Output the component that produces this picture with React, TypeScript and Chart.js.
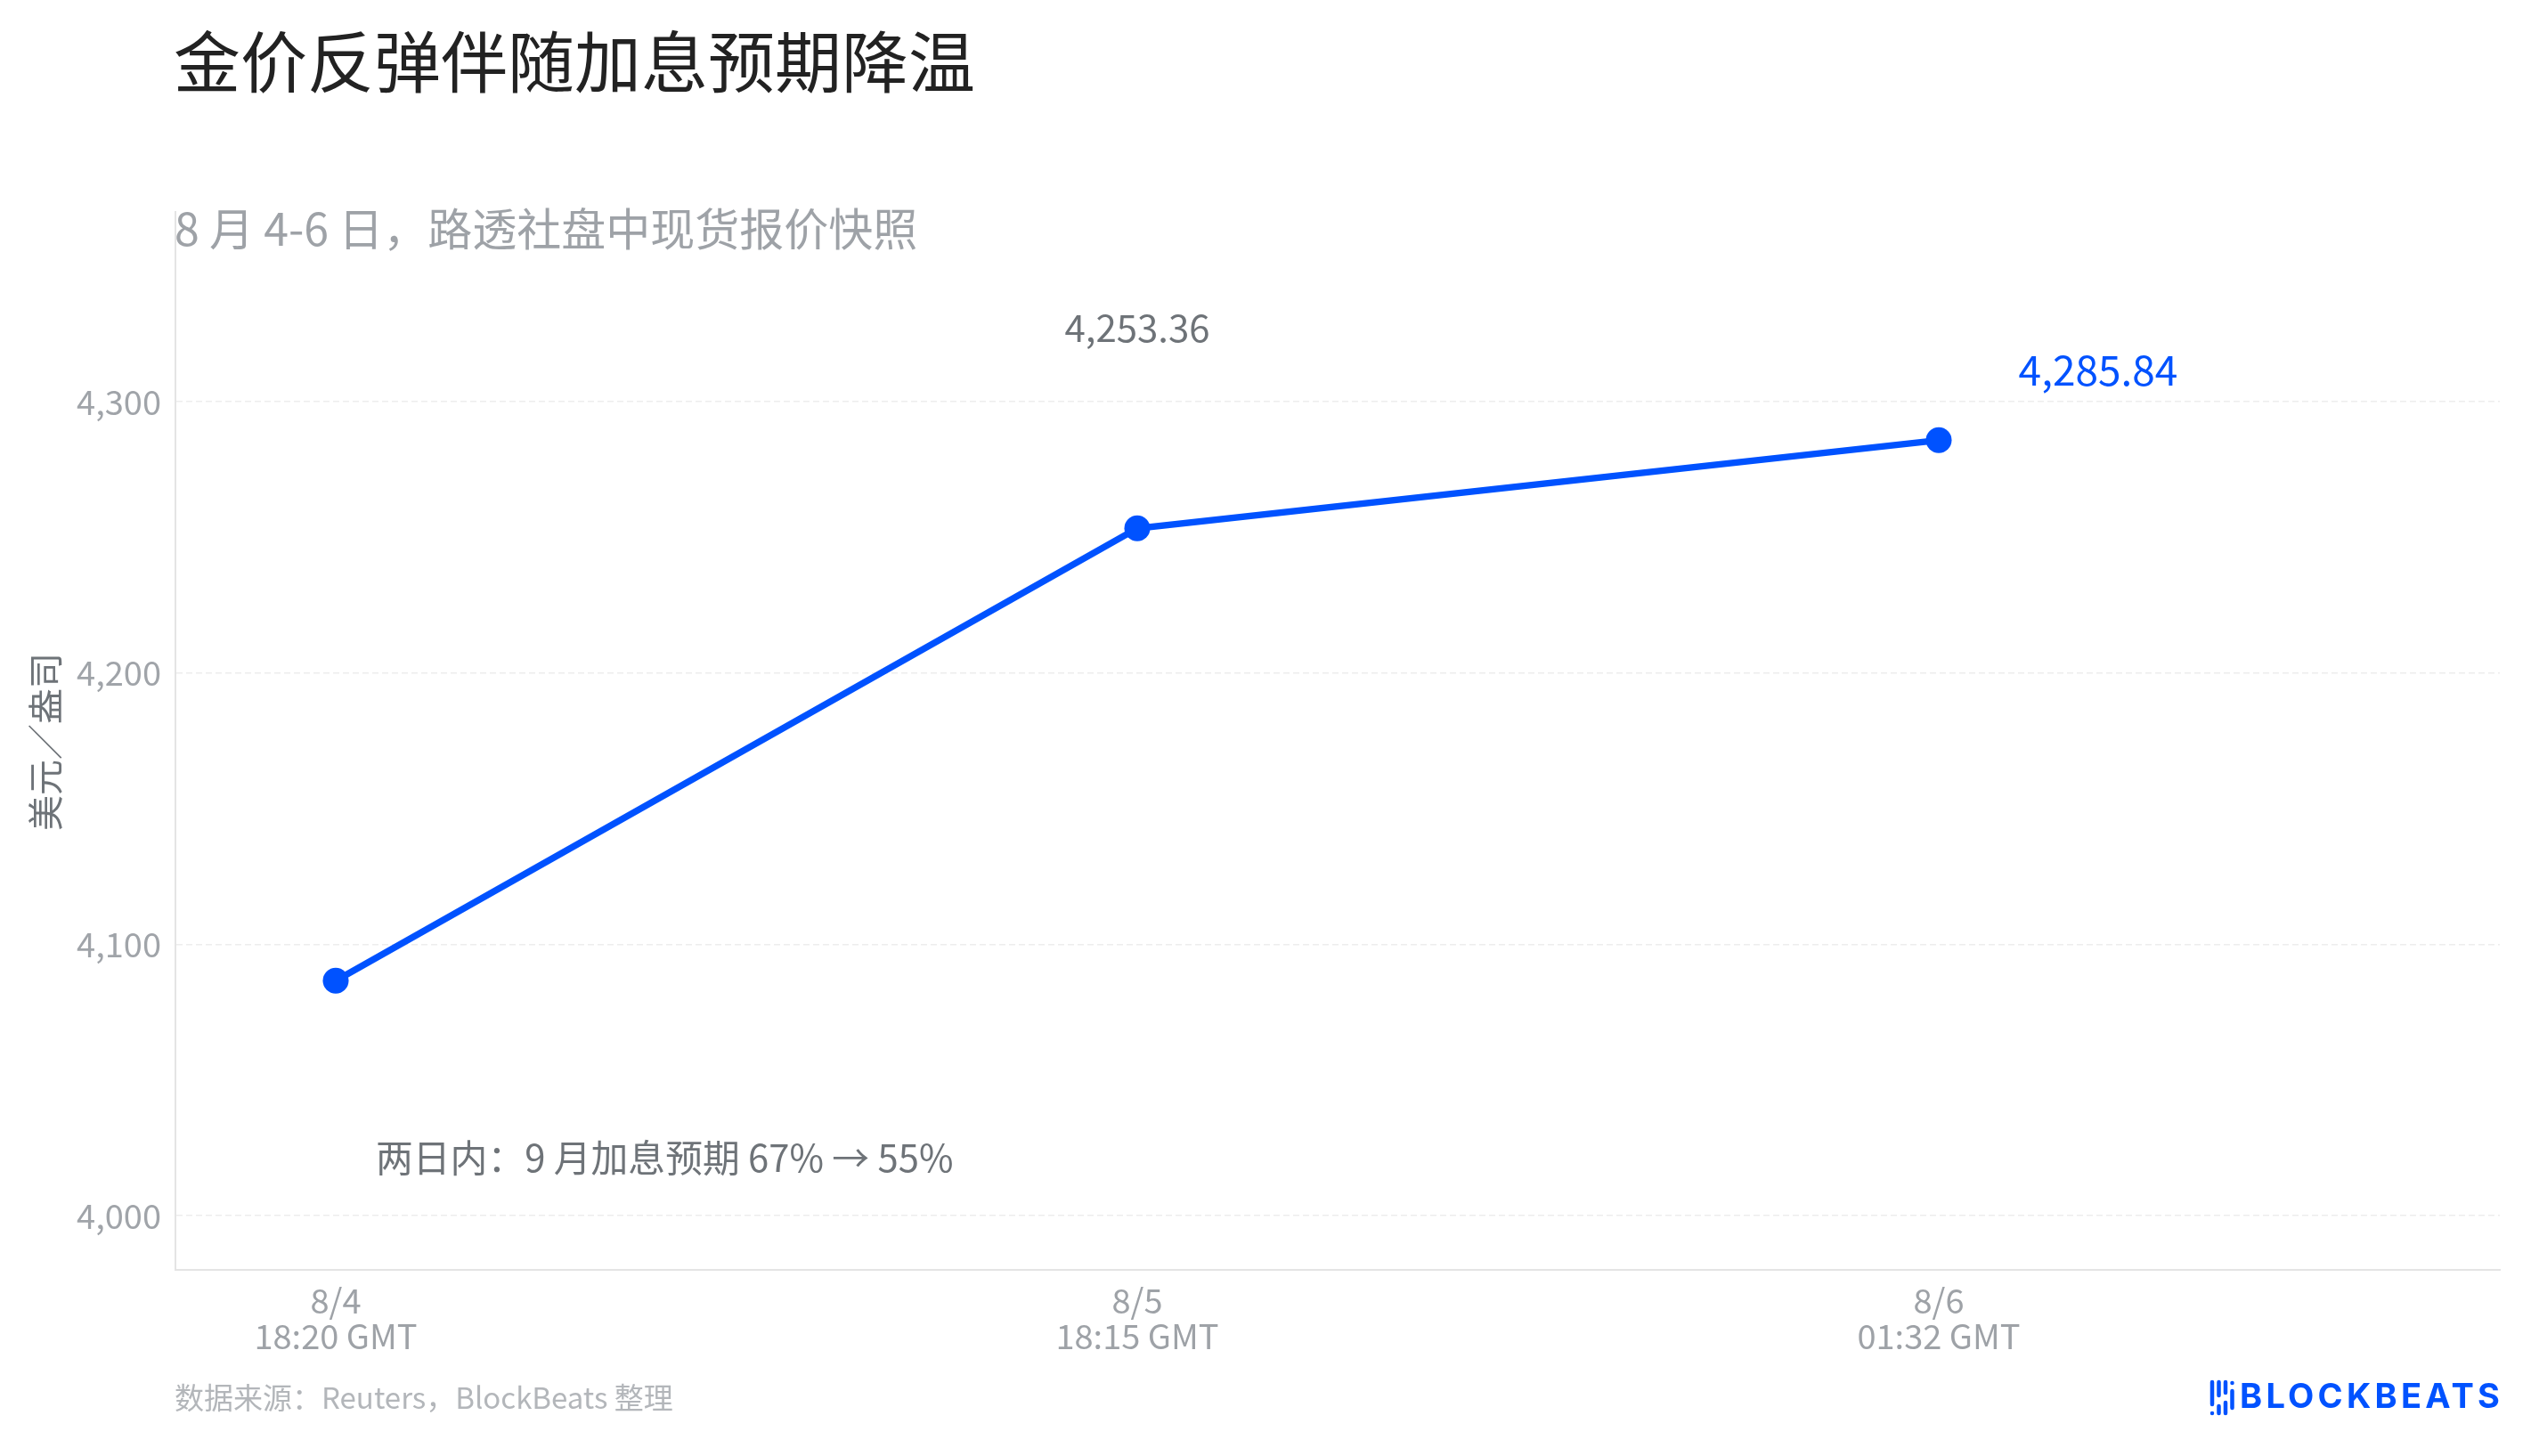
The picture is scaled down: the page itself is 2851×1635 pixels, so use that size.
import React, { useEffect, useRef } from "react";
import { Chart, registerables } from "chart.js";

Chart.register(...registerables);

const FONT = '"Noto Sans CJK SC", "Noto Sans", sans-serif';

// ---- texts ----
const TITLE = "金价反弹伴随加息预期降温";
const SUBTITLE = "8 月 4-6 日，路透社盘中现货报价快照";
const Y_TITLE = "美元／盎司";
const NOTE = "两日内：9 月加息预期 67% → 55%";
const SOURCE = "数据来源：Reuters，BlockBeats 整理";
const LOGO = "BLOCKBEATS";

// ---- data ----
const xPositions = [0, 1, 2];
const xDates = ["8/4", "8/5", "8/6"];
const xTimes = ["18:20 GMT", "18:15 GMT", "01:32 GMT"];
const prices = [4086.6, 4253.36, 4285.84];
const priceLabels = ["", "4,253.36", "4,285.84"];
const yTicks = [4000, 4100, 4200, 4300];
const yMin = 3980;
const yMax = 4370;
const xMin = -0.2;
const xMax = 2.7;

const BLUE = "#0052ff";

const labelStyles = [
  { color: "#6e7378", size: 42, dx: 0, dy: -225 },
  { color: "#6e7378", size: 42, dx: 0, dy: -225 },
  { color: BLUE, size: 46, dx: 179, dy: -79 },
];

const decorPlugin = {
  id: "decor",
  afterDraw(chart: any) {
    const ctx: CanvasRenderingContext2D = chart.ctx;
    ctx.save();
    ctx.textBaseline = "middle";
    ctx.textAlign = "left";

    // title
    ctx.fillStyle = "#222222";
    ctx.font = `400 75px ${FONT}`;
    ctx.fillText(TITLE, 195, 69);

    // subtitle
    ctx.fillStyle = "#9ea2a7";
    ctx.font = `400 50px ${FONT}`;
    ctx.fillText(SUBTITLE, 196, 257);

    // y axis title
    ctx.save();
    ctx.translate(51, 833);
    ctx.rotate(-Math.PI / 2);
    ctx.textAlign = "center";
    ctx.fillStyle = "#6e7378";
    ctx.font = `400 40px ${FONT}`;
    ctx.fillText(Y_TITLE, 0, 0);
    ctx.restore();

    // note
    ctx.fillStyle = "#6e7378";
    ctx.font = `400 41.8px ${FONT}`;
    ctx.fillText(NOTE, 422, 1300);

    // source
    ctx.fillStyle = "#b3b6ba";
    ctx.font = `400 33px ${FONT}`;
    ctx.fillText(SOURCE, 196, 1569);

    // value labels
    const meta = chart.getDatasetMeta(0);
    meta.data.forEach((pt: any, i: number) => {
      const txt = priceLabels[i];
      if (!txt) return;
      const st = labelStyles[i];
      ctx.fillStyle = st.color;
      ctx.font = `400 ${st.size}px ${FONT}`;
      ctx.textAlign = "center";
      ctx.fillText(txt, pt.x + st.dx, pt.y + st.dy);
    });

    // logo icon
    ctx.strokeStyle = BLUE;
    ctx.fillStyle = BLUE;
    ctx.lineCap = "round";
    ctx.lineWidth = 4.5;
    const segs: [number, number, number][] = [
      [2484, 1552, 1577],
      [2484, 1587, 1587],
      [2491.5, 1552, 1567],
      [2491.5, 1579, 1587],
      [2499, 1552, 1564],
      [2499, 1575, 1587],
      [2506.5, 1553, 1553],
      [2506.5, 1562, 1581],
    ];
    segs.forEach(([x, y1, y2]) => {
      ctx.beginPath();
      ctx.moveTo(x, y1);
      ctx.lineTo(x, y2 + 0.01);
      ctx.stroke();
    });

    // logo text
    ctx.textAlign = "left";
    ctx.font = `700 38px Inter, "DejaVu Sans", sans-serif`;
    const w0 = ctx.measureText(LOGO).width;
    const ls = Math.max(0, (292 - w0) / (LOGO.length - 1));
    (ctx as any).letterSpacing = `${ls}px`;
    ctx.fillText(LOGO, 2515, 1570);
    (ctx as any).letterSpacing = "0px";

    ctx.restore();
  },
};

export default function App() {
  const ref = useRef<HTMLCanvasElement>(null);

  useEffect(() => {
    if (!ref.current) return;
    const chart = new Chart(ref.current, {
      type: "line",
      data: {
        datasets: [
          {
            data: xPositions.map((x, i) => ({ x, y: prices[i] })),
            borderColor: BLUE,
            backgroundColor: BLUE,
            borderWidth: 7.5,
            pointRadius: 14.5,
            pointBackgroundColor: BLUE,
            pointBorderWidth: 0,
            tension: 0,
            clip: false as any,
          },
        ],
      },
      options: {
        responsive: false,
        animation: false,
        devicePixelRatio: 1,
        layout: { padding: { left: 0, top: 238, right: 44, bottom: 99 } },
        plugins: {
          legend: { display: false },
          tooltip: { enabled: false },
          title: { display: false },
        },
        scales: {
          x: {
            type: "linear",
            min: xMin,
            max: xMax,
            afterBuildTicks: (scale: any) => {
              scale.ticks = xPositions.map((v) => ({ value: v }));
            },
            afterFit: (scale: any) => {
              scale.height = 110;
            },
            grid: { display: false, drawTicks: false },
            border: { display: true, color: "#e4e4e4", width: 2 },
            ticks: {
              autoSkip: false,
              maxRotation: 0,
              padding: 15,
              color: "#9ea2a7",
              font: { family: FONT, size: 38, lineHeight: 1.05 },
              callback: (_v: any, i: number) => [xDates[i], xTimes[i]],
            },
          },
          y: {
            type: "linear",
            min: yMin,
            max: yMax,
            afterBuildTicks: (scale: any) => {
              scale.ticks = yTicks.map((v) => ({ value: v }));
            },
            afterFit: (scale: any) => {
              scale.width = 197;
            },
            grid: { color: "#ededed", lineWidth: 1.5, drawTicks: false },
            border: { display: true, color: "#e4e4e4", width: 2, dash: [7, 4] },
            ticks: {
              padding: 16,
              color: "#a0a4a9",
              font: { family: FONT, size: 38 },
              callback: (v: any) => Number(v).toLocaleString("en-US"),
            },
          },
        },
      },
      plugins: [decorPlugin],
    } as any);
    return () => chart.destroy();
  }, []);

  return (
    <div
      style={{
        position: "fixed",
        left: 0,
        top: 0,
        width: 2851,
        height: 1635,
        background: "#ffffff",
      }}
    >
      <canvas
        ref={ref}
        width={2851}
        height={1635}
        style={{ width: 2851, height: 1635, display: "block" }}
      />
    </div>
  );
}
